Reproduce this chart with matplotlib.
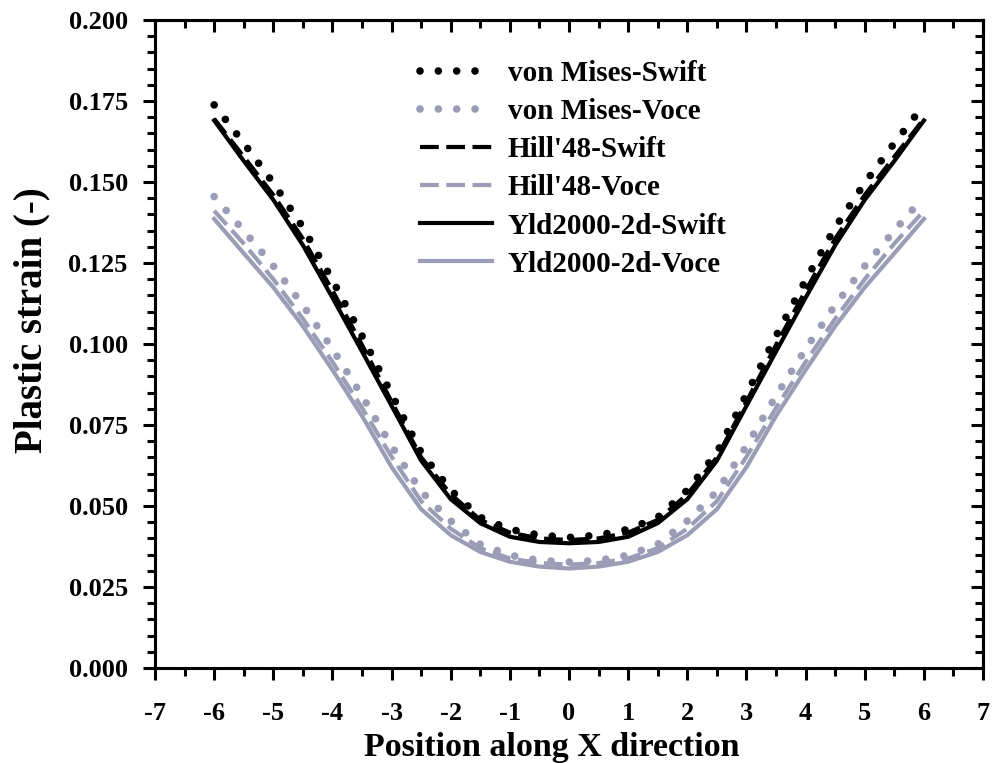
import numpy as np
import matplotlib
matplotlib.use('Agg')
import matplotlib.pyplot as plt
from matplotlib.ticker import MultipleLocator

# Position along X (mm) and plastic strain
x = [-6, -5.5, -5, -4.5, -4, -3.5, -3, -2.5, -2, -1.5, -1, -0.5, 0,
     0.5, 1, 1.5, 2, 2.5, 3, 3.5, 4, 4.5, 5, 5.5, 6]

vm_swift = [0.1738, 0.1620, 0.1497, 0.1360, 0.1197, 0.1025, 0.0845, 0.0665, 0.0549,
            0.0465, 0.0428, 0.0410, 0.0403,
            0.0410, 0.0428, 0.0465, 0.0549, 0.0665, 0.0845, 0.1025, 0.1197, 0.1360,
            0.1497, 0.1620, 0.1738]
vm_voce = [0.1455, 0.1350, 0.1241, 0.1120, 0.0985, 0.0840, 0.0685, 0.0545, 0.0454,
           0.0382, 0.0348, 0.0332, 0.0327,
           0.0332, 0.0348, 0.0382, 0.0454, 0.0545, 0.0685, 0.0840, 0.0985, 0.1120,
           0.1241, 0.1350, 0.1455]
hill_swift = [0.1695, 0.1578, 0.1460, 0.1325, 0.1165, 0.0997, 0.0822, 0.0650, 0.0536,
              0.0457, 0.0418, 0.0400, 0.0395,
              0.0400, 0.0418, 0.0457, 0.0536, 0.0650, 0.0822, 0.0997, 0.1165, 0.1325,
              0.1460, 0.1578, 0.1695]
hill_voce = [0.1411, 0.1310, 0.1200, 0.1078, 0.0945, 0.0803, 0.0652, 0.0515, 0.0430,
             0.0370, 0.0338, 0.0324, 0.0319,
             0.0324, 0.0338, 0.0370, 0.0430, 0.0515, 0.0652, 0.0803, 0.0945, 0.1078,
             0.1200, 0.1310, 0.1411]
yld_swift = [0.1690, 0.1565, 0.1445, 0.1305, 0.1143, 0.0977, 0.0809, 0.0640, 0.0521,
             0.0447, 0.0405, 0.0389, 0.0385,
             0.0389, 0.0405, 0.0447, 0.0521, 0.0640, 0.0809, 0.0977, 0.1143, 0.1305,
             0.1445, 0.1565, 0.1690]
yld_voce = [0.1386, 0.1280, 0.1175, 0.1055, 0.0920, 0.0778, 0.0620, 0.0490, 0.0410,
            0.0358, 0.0328, 0.0313, 0.0307,
            0.0313, 0.0328, 0.0358, 0.0410, 0.0490, 0.0620, 0.0778, 0.0920, 0.1055,
            0.1175, 0.1280, 0.1386]

labels = ['von Mises-Swift', 'von Mises-Voce', "Hill'48-Swift", "Hill'48-Voce",
          'Yld2000-2d-Swift', 'Yld2000-2d-Voce']

BLACK = '#000000'
GRAY = '#9c9cb6'

plt.rcParams['font.family'] = ['Liberation Serif', 'DejaVu Serif']
plt.rcParams['font.weight'] = 'bold'
plt.rcParams['axes.unicode_minus'] = False

fig = plt.figure(figsize=(9.93, 7.63), dpi=100)
ax = fig.add_axes([0.1561, 0.1245, 0.8339, 0.8493])

dot = (0, (0.001, 2.4))
dash = (0, (4.5, 1.8))
ax.plot(x, vm_swift, color=BLACK, lw=5.5, linestyle=dot, dash_capstyle='round', label=labels[0])
ax.plot(x, vm_voce, color=GRAY, lw=5.5, linestyle=dot, dash_capstyle='round', label=labels[1])
ax.plot(x, hill_swift, color=BLACK, lw=3, linestyle=dash, label=labels[2])
ax.plot(x, hill_voce, color=GRAY, lw=3, linestyle=dash, label=labels[3])
ax.plot(x, yld_swift, color=BLACK, lw=3, label=labels[4])
ax.plot(x, yld_voce, color=GRAY, lw=3, label=labels[5])

ax.set_xlim(-7, 7)
ax.set_ylim(0, 0.2)
ax.xaxis.set_major_locator(MultipleLocator(1))
ax.xaxis.set_minor_locator(MultipleLocator(0.5))
ax.yaxis.set_major_locator(MultipleLocator(0.025))
ax.yaxis.set_minor_locator(MultipleLocator(0.005))
ax.yaxis.set_major_formatter(plt.FormatStrFormatter('%.3f'))

for s in ax.spines.values():
    s.set_linewidth(2.2)

ax.tick_params(which='major', direction='out', length=8.6, width=2.2, labelsize=19, pad=11)
ax.tick_params(which='minor', direction='out', length=5.5, width=2.2)
ax.tick_params(axis='x', which='major', pad=16)

# mirrored inward ticks on top and right
top = ax.secondary_xaxis('top')
top.xaxis.set_major_locator(MultipleLocator(1))
top.xaxis.set_minor_locator(MultipleLocator(0.5))
top.tick_params(which='major', direction='in', length=8.6, width=2.2, labeltop=False)
top.tick_params(which='minor', direction='in', length=5.5, width=2.2)
right = ax.secondary_yaxis('right')
right.yaxis.set_major_locator(MultipleLocator(0.025))
right.yaxis.set_minor_locator(MultipleLocator(0.005))
right.tick_params(which='major', direction='in', length=8.6, width=2.2, labelright=False)
right.tick_params(which='minor', direction='in', length=5.5, width=2.2)
for sec in (top, right):
    for s in sec.spines.values():
        s.set_linewidth(2.2)

ax.set_xlabel('Position along X direction', fontsize=24.5, fontweight='bold', labelpad=5)
ax.set_ylabel('Plastic strain (-)', fontsize=28, fontweight='bold', labelpad=13)
ax.xaxis.label.set_x(0.479)
ax.yaxis.label.set_y(0.537)

leg = ax.legend(loc='upper left', bbox_to_anchor=(0.306, 0.956), frameon=False,
                fontsize=21, handlelength=2.45, handletextpad=0.55, labelspacing=0.38,
                borderaxespad=0)

fig.savefig('out.png', dpi=100)
